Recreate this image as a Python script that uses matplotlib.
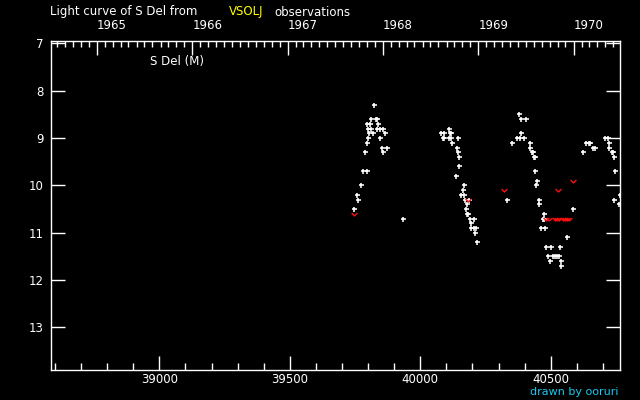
import datetime
import matplotlib
matplotlib.use("Agg")
import matplotlib.pyplot as plt
from matplotlib.path import Path
from matplotlib.ticker import MultipleLocator, NullLocator, FixedLocator

# ---- data (JD - 2400000, visual magnitude) ----
jd_white_1 = [39747, 39758, 39762, 39773, 39781, 39796, 39789, 39858, 39796, 39854,
              39873, 39800, 39846, 39804, 39819, 39865, 39800, 39812, 39835, 39846,
              39858, 39796, 39808, 39839, 39812, 39830, 39834, 39823, 39934]
mag_white_1 = [10.5, 10.2, 10.3, 10.0, 9.7, 9.7, 9.3, 9.3, 9.1, 9.2,
               9.2, 9.0, 9.0, 8.9, 8.9, 8.9, 8.8, 8.8, 8.8, 8.8,
               8.8, 8.7, 8.7, 8.7, 8.6, 8.6, 8.6, 8.3, 10.7]

jd_white_2 = [40111, 40080, 40091, 40114, 40116, 40086, 40090, 40111, 40118, 40145,
              40122, 40141, 40145, 40149, 40149, 40137, 40168, 40164, 40157, 40168,
              40172, 40187, 40180, 40176, 40178, 40182, 40191, 40206, 40195, 40195,
              40206, 40214, 40210, 40218]
mag_white_2 = [8.8, 8.9, 8.9, 8.9, 8.9, 9.0, 9.0, 9.0, 9.0, 9.0,
               9.1, 9.2, 9.3, 9.4, 9.6, 9.8, 10.0, 10.1, 10.2, 10.2,
               10.3, 10.3, 10.4, 10.5, 10.6, 10.6, 10.7, 10.7, 10.8, 10.9,
               10.9, 10.9, 11.0, 11.2]

jd_white_3 = [40379, 40386, 40406, 40386, 40371, 40383, 40398, 40352, 40421, 40421,
              40427, 40431, 40434, 40438, 40440, 40448, 40444, 40333, 40455, 40455,
              40475, 40471, 40473, 40463, 40478, 40563, 40482, 40501, 40536, 40490,
              40509, 40517, 40524, 40532, 40498, 40540, 40540, 40586]
mag_white_3 = [8.5, 8.6, 8.6, 8.9, 9.0, 9.0, 9.0, 9.1, 9.1, 9.2,
               9.3, 9.3, 9.4, 9.4, 9.7, 9.9, 10.0, 10.3, 10.3, 10.4,
               10.6, 10.7, 10.7, 10.9, 10.9, 11.1, 11.3, 11.3, 11.3, 11.5,
               11.5, 11.5, 11.5, 11.5, 11.6, 11.6, 11.7, 10.5]

jd_white_4 = [40708, 40720, 40636, 40647, 40651, 40724, 40662, 40670, 40724, 40624,
              40733, 40737, 40743, 40747, 40743, 40762, 40766]
mag_white_4 = [9.0, 9.0, 9.1, 9.1, 9.1, 9.1, 9.2, 9.2, 9.2, 9.3,
               9.3, 9.3, 9.4, 9.7, 10.3, 10.4, 10.2]

jd_red = [39747, 40183, 40321, 40528, 40586, 40481, 40493, 40516, 40523, 40531,
          40546, 40554, 40561, 40569]
mag_red = [10.6, 10.3, 10.1, 10.1, 9.9, 10.7, 10.7, 10.7, 10.7, 10.7,
           10.7, 10.7, 10.7, 10.7]

year_labels = [1965, 1966, 1967, 1968, 1969, 1970]
y_ticks = [7, 8, 9, 10, 11, 12, 13]
x_ticks = [39000, 39500, 40000, 40500]

XMIN, XMAX = 38583, 40767
YTOP, YBOT = 6.95, 13.9
FS = 8.5


def jd_of(y, m):
    return (datetime.date(y, m, 1) - datetime.date(1858, 11, 17)).days + 0.5


W, H = 640, 400
fig = plt.figure(figsize=(6.4, 4.0), dpi=100, facecolor="black")
ax = fig.add_axes([50.6 / W, 1 - 370 / H, (620.4 - 50.6) / W, (370 - 41) / H])
ax.set_facecolor("black")

jd_white = jd_white_1 + jd_white_2 + jd_white_3 + jd_white_4
mag_white = mag_white_1 + mag_white_2 + mag_white_3 + mag_white_4
ax.plot(jd_white, mag_white, ls="none", marker="+", ms=3.6, mew=1.15,
        color="white")

vmark = Path([(-1, 0.5), (0, -0.5), (1, 0.5)], [Path.MOVETO, Path.LINETO, Path.LINETO])
ax.plot(jd_red, mag_red, ls="none", marker=vmark, ms=4.2, mew=1.0,
        mfc="none", mec="#ff1010")

ax.set_xlim(XMIN, XMAX)
ax.set_ylim(YBOT, YTOP)

for s in ax.spines.values():
    s.set_color("white")
    s.set_linewidth(1.0)

ax.xaxis.set_major_locator(FixedLocator(x_ticks))
ax.xaxis.set_minor_locator(MultipleLocator(100))
ax.yaxis.set_major_locator(FixedLocator(y_ticks))
ax.yaxis.set_minor_locator(NullLocator())
ax.tick_params(axis="x", which="major", direction="in", length=10, width=1,
               color="white", labelcolor="white", labelsize=FS, pad=2, top=False)
ax.tick_params(axis="x", which="minor", direction="in", length=5, width=1,
               color="white", top=False)
ax.tick_params(axis="y", which="major", direction="in", length=10, width=1,
               color="white", labelcolor="white", labelsize=FS, pad=5,
               right=True, labelright=False)

# top axis in calendar years
ax2 = ax.twiny()
ax2.set_xlim(XMIN, XMAX)
for s in ax2.spines.values():
    s.set_visible(False)
ax2.set_xticks([jd_of(y, 1) for y in year_labels])
ax2.set_xticklabels([str(y) for y in year_labels])
for lbl in ax2.get_xticklabels():
    lbl.set_horizontalalignment("left")
months = [jd_of(y, m) for y in range(1964, 1971) for m in range(1, 13)]
months = [v for v in months if XMIN <= v <= XMAX]
ax2.xaxis.set_minor_locator(FixedLocator(months))
ax2.tick_params(axis="x", which="major", direction="in", length=10, width=1,
                color="white", labelcolor="white", labelsize=FS, pad=6.5)
ax2.tick_params(axis="x", which="minor", direction="in", length=4.5, width=1,
                color="white")

# texts
fig.text(50 / W, 1 - 12 / H, "Light curve of S Del from", color="white",
         fontsize=FS, va="center", ha="left")
fig.text(229 / W, 1 - 12 / H, "VSOLJ", color="#ffff00",
         fontsize=FS, va="center", ha="left")
fig.text(274 / W, 1 - 12 / H, "observations", color="white",
         fontsize=FS, va="center", ha="left")
ax.text(150 / W, 1 - 61 / H, "S Del (M)", color="white", fontsize=FS,
        va="center", ha="left", transform=fig.transFigure)
fig.text(619 / W, 1 - 392 / H, "drawn by ooruri", color="#19c8f0",
         fontsize=8, va="center", ha="right")

fig.savefig("out.png", dpi=100, facecolor="black")
